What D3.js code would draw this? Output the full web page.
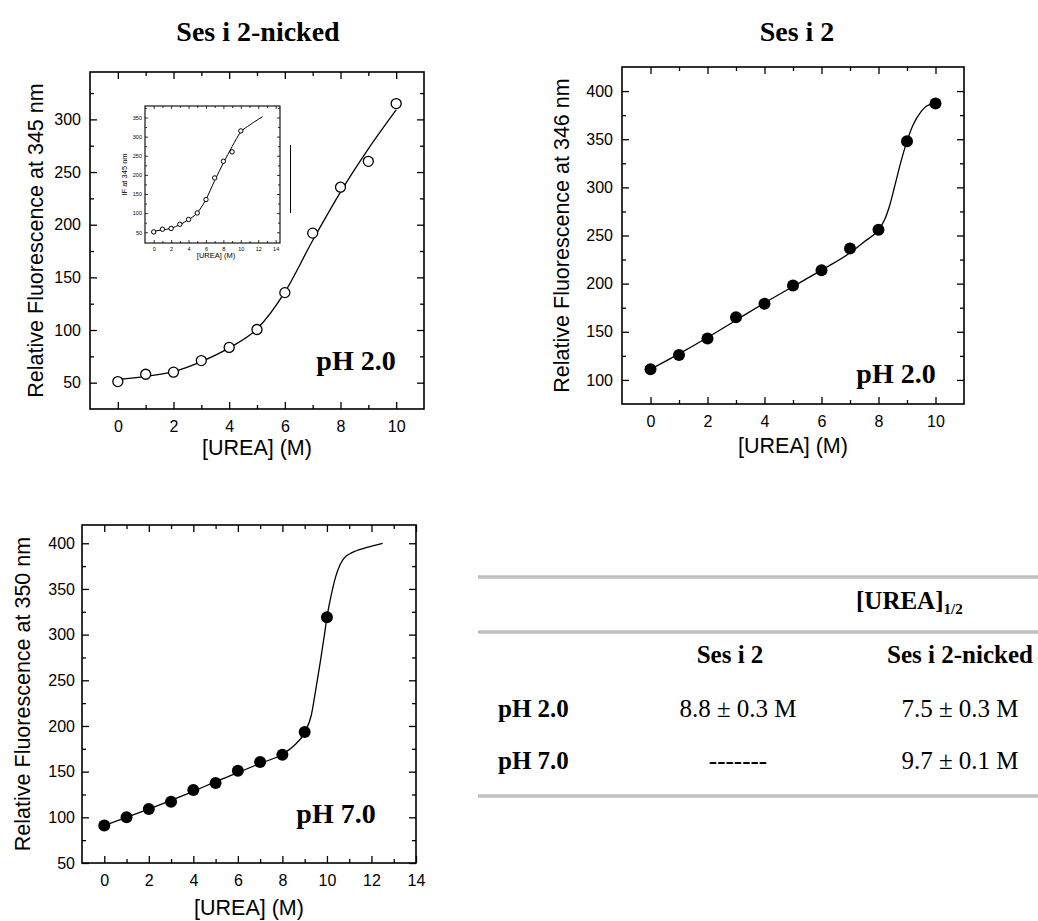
<!DOCTYPE html>
<html><head><meta charset="utf-8">
<script src="https://cdn.jsdelivr.net/npm/d3@7"></script>
<style>
body{margin:0;background:#fff;}
svg{display:block;}
.tick text{font-family:"Liberation Sans",Arial,sans-serif;fill:#000;}
</style></head>
<body><svg id="c" width="1038" height="921"></svg>
<script>
// ---------- data ----------
const urea = [0,1,2,3,4,5,6,7,8,9,10];
const nickedPH2 = [51,58,60,71,83.5,100.5,135.5,192,235.6,260.2,315];
const nickedPH2FitX = [0,1,2,3,4,5,6,7,8,9,10];
const nickedPH2FitY = [53,56,60.5,70,83,101,136,185,231,272,309];
const insetFitX = [0,1,2,3,4,5,6,7,8,9,10,11,12,12.5];
const insetFitY = [53,56,60.5,70,83,101,136,185,231,274,312,330,345,352];
const wildPH2 = [111,126,143,165,179,198,214,236.6,256,348,387];
const wildPH2FitX = [0,1,2,3,4,5,6,7,7.5,8,8.2,8.4,8.6,8.8,9,9.2,9.5,9.75,10];
const wildPH2FitY = [111,127,144,162,180,197,214,232,243.5,256,265.5,282,305,328,348,364,379,385.5,387];
const nickedPH7 = [91,100,109,117,130,137.5,151,160.5,168.5,193.3,319];
const nickedPH7FitX = [0,1,2,3,4,5,6,7,8,8.5,9,9.3,9.5,9.7,9.9,10,10.2,10.4,10.6,10.8,11.1,11.8,12.5];
const nickedPH7FitY = [91,100,109,118.5,128.5,139,149,159,169,178,193,212,240,270,302,319,344,364,377,384.5,389.5,395.5,400];
const titles = ["Ses i 2-nicked","Ses i 2"];
const tableCols = ["Ses i 2","Ses i 2-nicked"];
const tableRows = ["pH 2.0","pH 7.0"];
const tableVals = [["8.8 \u00b1 0.3 M","7.5 \u00b1 0.3 M"],["-------","9.7 \u00b1 0.1 M"]];

const svg = d3.select("#c");
const SANS = '"Liberation Sans",Arial,sans-serif';
const SERIF = '"Liberation Serif","Times New Roman",serif';
const range = (a,b,s)=>d3.range(a,b+1e-9,s);

function panel(o){
  const x = d3.scaleLinear().domain(o.xd).range([o.l,o.r]);
  const y = d3.scaleLinear().domain(o.yd).range([o.b,o.t]);
  const g = svg.append("g");
  const M = o.maj, m = o.min, fs = o.fs, pad = o.pad;
  const styl = sel => { sel.select(".domain").remove(); sel.selectAll("line").attr("stroke","#000").attr("stroke-width",o.tw); sel.selectAll("text").style("font-size",fs+"px"); };
  g.append("g").attr("transform",`translate(0,${o.b})`).call(d3.axisBottom(x).tickValues(o.xt).tickSize(-M).tickPadding(pad).tickFormat(d3.format("d"))).call(styl);
  g.append("g").attr("transform",`translate(0,${o.b})`).call(d3.axisBottom(x).tickValues(o.xm).tickSize(-m).tickFormat("")).call(styl);
  g.append("g").attr("transform",`translate(0,${o.t})`).call(d3.axisTop(x).tickValues(o.xt).tickSize(-M).tickFormat("")).call(styl);
  g.append("g").attr("transform",`translate(0,${o.t})`).call(d3.axisTop(x).tickValues(o.xm).tickSize(-m).tickFormat("")).call(styl);
  g.append("g").attr("transform",`translate(${o.l},0)`).call(d3.axisLeft(y).tickValues(o.yt).tickSize(-M).tickPadding(o.ypad).tickFormat(d3.format("d"))).call(styl);
  g.append("g").attr("transform",`translate(${o.l},0)`).call(d3.axisLeft(y).tickValues(o.ym).tickSize(-m).tickFormat("")).call(styl);
  g.append("g").attr("transform",`translate(${o.r},0)`).call(d3.axisRight(y).tickValues(o.yt).tickSize(-M).tickFormat("")).call(styl);
  g.append("g").attr("transform",`translate(${o.r},0)`).call(d3.axisRight(y).tickValues(o.ym).tickSize(-m).tickFormat("")).call(styl);
  g.append("rect").attr("x",o.l).attr("y",o.t).attr("width",o.r-o.l).attr("height",o.b-o.t).attr("fill","none").attr("stroke","#000").attr("stroke-width",o.fw);
  if(o.xlab) g.append("text").attr("x",(o.xlc!==undefined?o.xlc:(o.l+o.r)/2)).attr("y",o.xly).attr("text-anchor","middle").style("font-family",SANS).style("font-size",o.lfs+"px").text(o.xlab);
  if(o.ylab) g.append("text").attr("transform",`translate(${o.ylx},${(o.t+o.b)/2}) rotate(-90)`).attr("dy","0.35em").attr("text-anchor","middle").style("font-family",SANS).style("font-size",o.lfs+"px").text(o.ylab);
  const line = d3.line().x(d=>x(d[0])).y(d=>y(d[1])).curve(d3.curveMonotoneX);
  g.append("path").datum(d3.zip(o.fx,o.fy)).attr("d",line).attr("fill","none").attr("stroke","#000").attr("stroke-width",o.cw);
  g.selectAll("circle.pt").data(d3.zip(urea,o.py)).join("circle").attr("class","pt")
    .attr("cx",d=>x(d[0])).attr("cy",d=>y(d[1])).attr("r",o.pr)
    .attr("fill",o.open?"#fff":"#000").attr("stroke","#000").attr("stroke-width",o.open?o.cw:0);
  return {x,y,g};
}

// Panel 1 : Ses i 2-nicked pH 2.0
panel({l:90,r:424,t:72,b:409,xd:[-1,11],yd:[25,345],xt:range(0,10,2),xm:range(1,9,2),yt:range(50,300,50),ym:range(75,325,50),
  maj:7,min:4,fs:16,pad:12,ypad:9,tw:1.3,fw:1.6,lfs:21.5,xlab:"[UREA] (M)",xly:455,ylab:"Relative Fluorescence at 345 nm",ylx:35,
  fx:nickedPH2FitX,fy:nickedPH2FitY,py:nickedPH2,pr:5,open:true,cw:1.3});
// Inset
panel({l:145,r:280,t:106,b:243,xd:[-1,14.5],yd:[22,380],xt:range(0,14,2),xm:range(1,13,2),yt:range(50,350,50),ym:range(75,375,50),
  maj:3,min:2,fs:5.5,pad:4,ypad:3,tw:0.8,fw:1.1,lfs:7.5,xlab:"[UREA] (M)",xly:258,xlc:216,ylab:"IF at 345 nm",ylx:124,
  fx:insetFitX,fy:insetFitY,py:nickedPH2,pr:2.2,open:true,cw:1});
svg.append("line").attr("x1",290.5).attr("x2",290.5).attr("y1",145).attr("y2",213).attr("stroke","#000").attr("stroke-width",1);

// Panel 2 : Ses i 2 pH 2.0
panel({l:622,r:964,t:67,b:404,xd:[-1,11],yd:[75,425],xt:range(0,10,2),xm:range(1,9,2),yt:range(100,400,50),ym:range(125,375,50),
  maj:7,min:4,fs:16,pad:12,ypad:9,tw:1.3,fw:1.6,lfs:21.5,xlab:"[UREA] (M)",xly:453,ylab:"Relative Fluorescence at 346 nm",ylx:561,
  fx:wildPH2FitX,fy:wildPH2FitY,py:wildPH2,pr:6,open:false,cw:1.3});

// Panel 3 : Ses i 2-nicked pH 7.0
panel({l:82,r:416,t:525,b:863,xd:[-1,14],yd:[50,420],xt:range(0,14,2),xm:range(1,13,2),yt:range(50,400,50),ym:range(75,375,50),
  maj:7,min:4,fs:16,pad:12,ypad:7,tw:1.3,fw:1.6,lfs:21.5,xlab:"[UREA] (M)",xly:915,xlc:249,ylab:"Relative Fluorescence at 350 nm",ylx:22,
  fx:nickedPH7FitX,fy:nickedPH7FitY,py:nickedPH7,pr:6,open:false,cw:1.3});

// pH labels
const phLab = [["pH 2.0",356,370],["pH 2.0",896,383],["pH 7.0",336,823]];
svg.selectAll("text.ph").data(phLab).join("text").attr("class","ph")
  .attr("x",d=>d[1]).attr("y",d=>d[2]).attr("text-anchor","middle")
  .style("font-family",SERIF).style("font-weight","bold").style("font-size","28px").text(d=>d[0]);

// titles
svg.selectAll("text.title").data(titles).join("text").attr("class","title")
  .attr("x",(d,i)=>i?797:258).attr("y",41).attr("text-anchor","middle")
  .style("font-family",SERIF).style("font-weight","bold").style("font-size","28px").text(d=>d);

// table
const tg = svg.append("g");
[577,632,796].forEach(yy=>tg.append("line").attr("x1",478).attr("x2",1038).attr("y1",yy).attr("y2",yy).attr("stroke","#c0c0c0").attr("stroke-width",3.5));
const hdr = tg.append("text").attr("x",856).attr("y",609).style("font-family",SERIF).style("font-weight","bold").style("font-size","25px");
hdr.append("tspan").text("[UREA]");
hdr.append("tspan").attr("dy",5).style("font-size","15px").text("1/2");
const colX = [738,960];
tg.selectAll("text.col").data(tableCols).join("text").attr("class","col")
  .attr("x",(d,i)=>i?colX[1]:730).attr("y",663).attr("text-anchor","middle")
  .style("font-family",SERIF).style("font-weight","bold").style("font-size","25px").text(d=>d);
tg.selectAll("text.row").data(tableRows).join("text").attr("class","row")
  .attr("x",498).attr("y",(d,i)=>[717,769][i])
  .style("font-family",SERIF).style("font-weight","bold").style("font-size","25px").text(d=>d);
tableVals.forEach((row,i)=>row.forEach((v,j)=>{
  tg.append("text").attr("x",colX[j]).attr("y",[717,769][i]).attr("text-anchor","middle")
    .style("font-family",SERIF).style("font-size","25px").text(v);
}));
</script></body></html>
